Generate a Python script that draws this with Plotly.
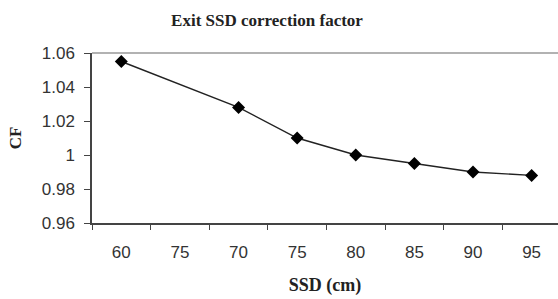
import plotly.graph_objects as go

categories = ["60", "75", "70", "75", "80", "85", "90", "95"]
# CF values per category; the second category ("75") has no value in the chart
cf_values = [1.055, None, 1.028, 1.010, 1.000, 0.995, 0.990, 0.988]
y_ticks = [0.96, 0.98, 1.00, 1.02, 1.04, 1.06]
y_tick_labels = ["0.96", "0.98", "1", "1.02", "1.04", "1.06"]

pos = list(range(len(categories)))

serif = "Liberation Serif, Times New Roman, serif"

fig = go.Figure()
fig.add_trace(go.Scatter(
    x=pos, y=cf_values, mode="lines+markers", connectgaps=True,
    line=dict(color="#222222", width=1.4),
    marker=dict(symbol="diamond", size=10, color="#000000"),
    showlegend=False,
))

fig.update_layout(
    width=558, height=299,
    margin=dict(l=92, r=0, t=53, b=76),
    paper_bgcolor="white", plot_bgcolor="white",
    font=dict(family="Liberation Sans, Arial, sans-serif", size=17, color="#333333"),
    title=dict(text="<b>Exit SSD correction factor</b>", x=267/558, xanchor="center",
               y=1 - 20/299, yanchor="middle", automargin=False,
               font=dict(family=serif, size=17, color="#222222")),
    xaxis=dict(
        range=[-0.5, 7.45], tickmode="array", tickvals=pos, ticktext=categories,
        ticks="", showgrid=False, zeroline=False, automargin=False,
        showline=True, linecolor="#444444", linewidth=1.5,
        ticklabelstandoff=13,
        minor=dict(tick0=-0.5, dtick=1, ticks="outside", ticklen=5, tickcolor="#444444", tickwidth=1.2, showgrid=False),
        title=dict(text="<b>SSD (cm)</b>", standoff=17,
                   font=dict(family=serif, size=18, color="#222222")),
    ),
    yaxis=dict(
        range=[0.96, 1.06], tickmode="array", tickvals=y_ticks, ticktext=y_tick_labels,
        ticks="outside", ticklen=6, tickcolor="#444444", tickwidth=1.2,
        showgrid=False, zeroline=False, automargin=False,
        showline=True, linecolor="#444444", linewidth=1.5,
        ticklabelstandoff=6,
        title=dict(text="<b>CF</b>", standoff=16,
                   font=dict(family=serif, size=17, color="#222222")),
    ),
    shapes=[dict(type="line", xref="x domain", yref="y domain", x0=0, x1=1, y0=1, y1=1,
                 line=dict(color="#999999", width=1.5))],
)

fig.write_html("out.html", config={"displayModeBar": False},
               post_script="document.body.style.margin='0';document.body.style.overflow='hidden';")
